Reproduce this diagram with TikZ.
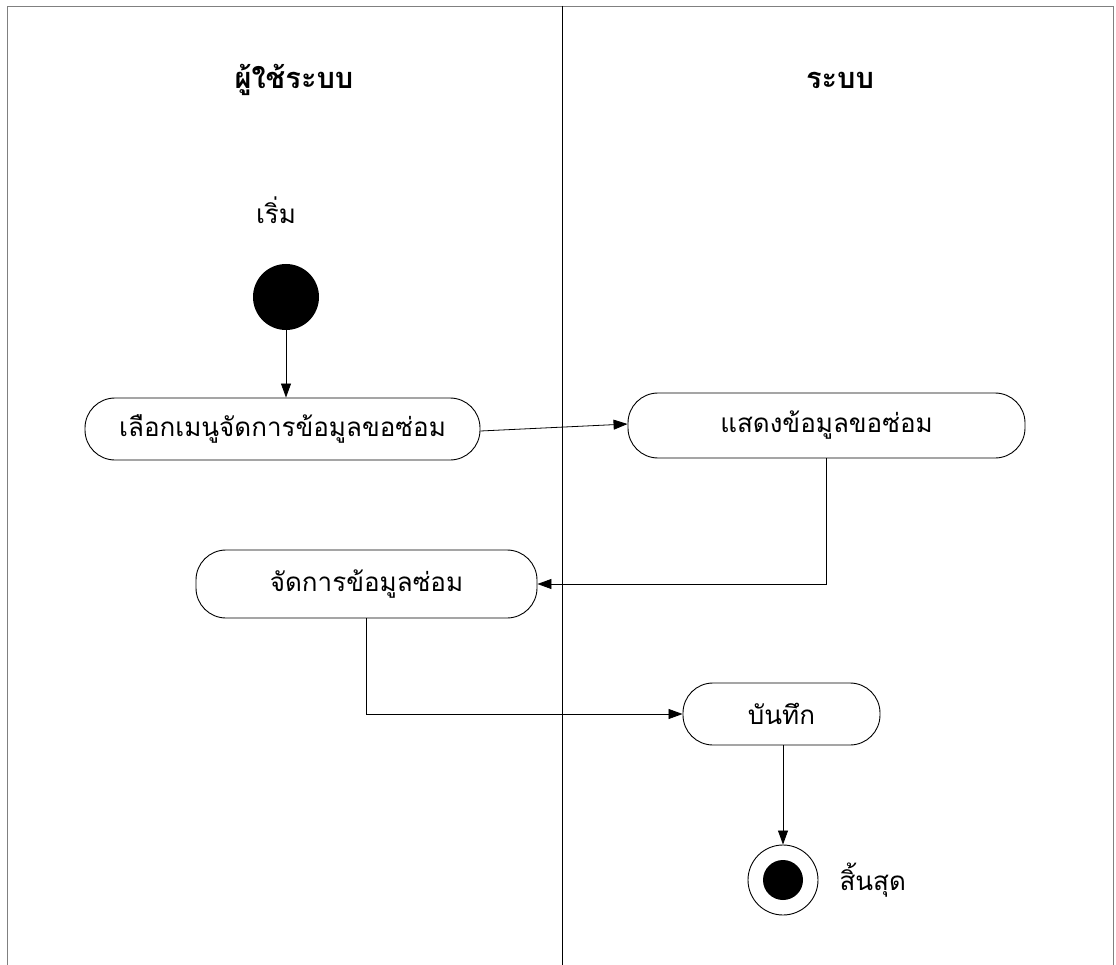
\documentclass[tikz,border=0pt]{standalone}
\usepackage{fontspec}
\newfontfamily\thaifont[Script=Thai]{Loma}
\usetikzlibrary{arrows.meta}
\begin{document}
\begin{tikzpicture}[x=1pt,y=-1pt,
  act/.style={draw,line width=0.9pt,rounded corners=30pt,inner sep=0pt,font=\thaifont\fontsize{26}{30}\selectfont},
  lane/.style={line width=0.8pt},
  flow/.style={line width=0.8pt,-{Triangle[length=14pt,width=10pt]}},
  lbl/.style={font=\thaifont\fontsize{26}{30}\selectfont},
  hdr/.style={font=\thaifont\bfseries\fontsize{29}{33}\selectfont}]
\useasboundingbox (0,0) rectangle (1116,965);
% frame
\draw[lane,gray] (7,965) -- (7,6) -- (1113,6) -- (1113,965);
\draw[lane] (562,6) -- (562,965);
% headers
\node[hdr] (h1) at (294,80) {ผู้ใช้ระบบ};
\node[hdr] (h2) at (840,80) {ระบบ};
% start
\node[lbl] (startlbl) at (276,210) {เริ่ม};
\node[circle,fill=black,minimum size=66pt,inner sep=0pt] (start) at (286,297) {};
% activities
\node[act,minimum width=395pt,minimum height=62pt] (a1) at (282.5,429) {เลือกเมนูจัดการข้อมูลขอซ่อม};
\node[act,minimum width=397pt,minimum height=65pt] (a2) at (826.5,425.5) {แสดงข้อมูลขอซ่อม};
\node[act,minimum width=341pt,minimum height=68pt] (a3) at (366.5,584) {จัดการข้อมูลซ่อม};
\node[act,minimum width=197pt,minimum height=62pt] (a4) at (781.5,714) {บันทึก};
% end
\node[circle,draw,line width=0.9pt,minimum size=70pt,inner sep=0pt] (end) at (783,880) {};
\node[circle,fill=black,minimum size=40pt,inner sep=0pt] (endin) at (end.center) {};
\node[lbl,anchor=west] (endlbl) at (836,880) {สิ้นสุด};
% flows
\draw[flow] (start.south) -- (start.south |- a1.north);
\draw[flow] ([yshift=-2pt]a1.east) -- ([yshift=1.5pt]a2.west);
\draw[flow] (a2.south) |- (a3.east);
\draw[flow] (a3.south) |- (a4.west);
\draw[flow] (a4.south -| end.north) -- (end.north);
\end{tikzpicture}
\end{document}
